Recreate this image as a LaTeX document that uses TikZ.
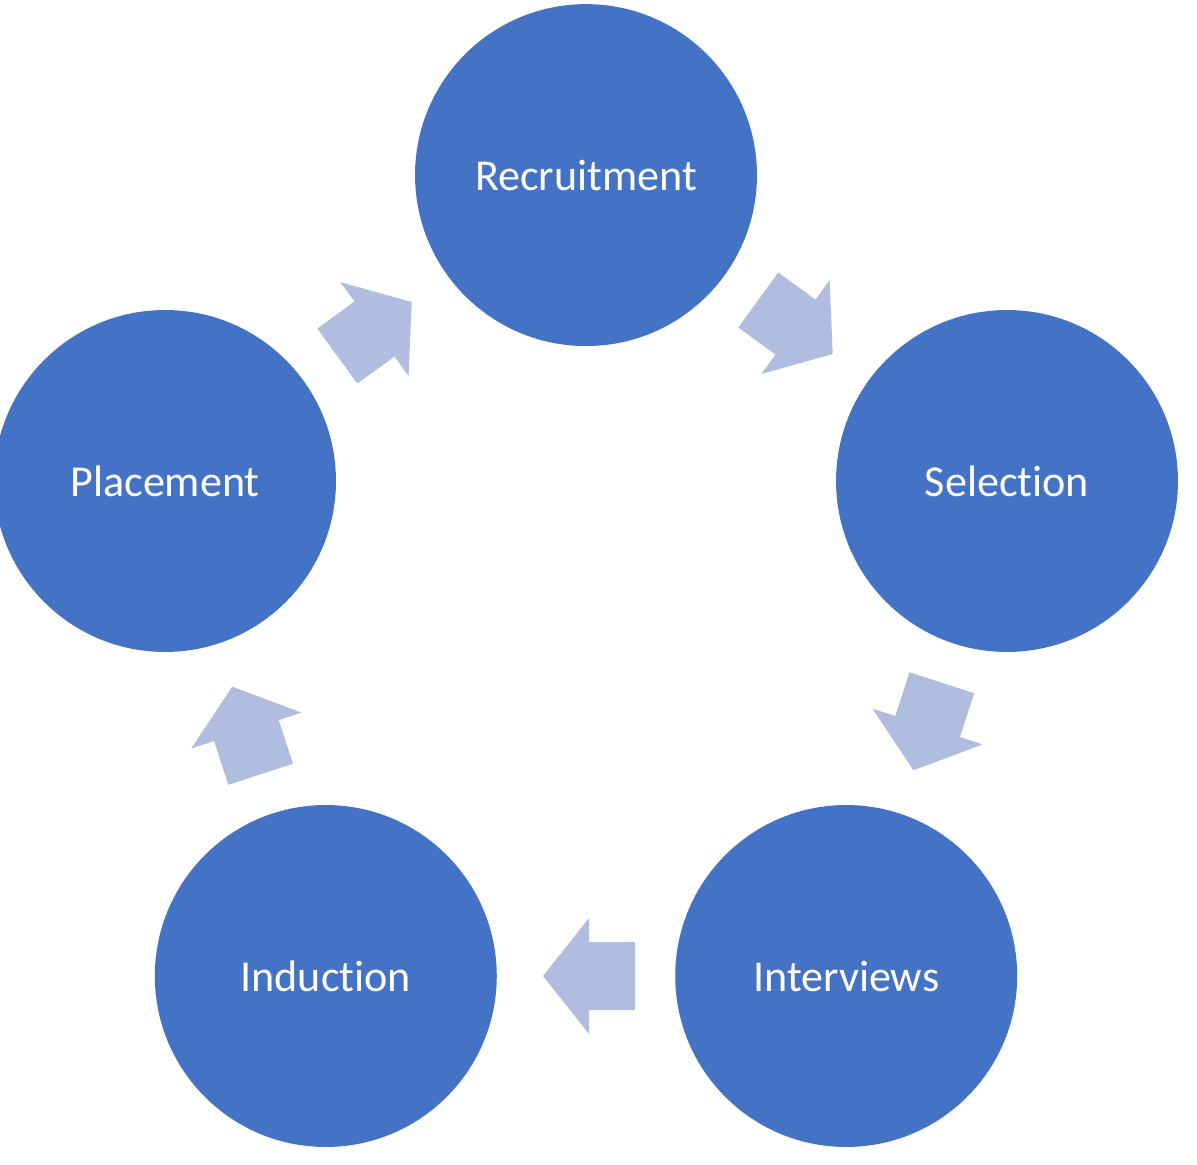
\documentclass[tikz,border=0pt]{standalone}
\usepackage{fontspec}
\setmainfont{Carlito}[Ligatures={NoCommon}]
\usetikzlibrary{calc}
\definecolor{circblue}{HTML}{4472C4}
\definecolor{arrblue}{RGB}{176,189,223}
\tikzset{
  stage/.style={circle, fill=circblue, draw=none, minimum size=6.84cm, inner sep=0pt,
    text=white, font=\fontsize{25.1}{30}\selectfont},
  blockarrow/.style={fill=arrblue, draw=none}
}
\newcommand{\cyclearrow}[4]{%
  \path[blockarrow, shift={($(#1)!0.5!(#2)+(#4)$)}, rotate=#3]
    (46,0) -- (0,58) -- (0,34) -- (-46,34) -- (-46,-34) -- (0,-34) -- (0,-58) -- cycle;}
\begin{document}
\begin{tikzpicture}[x=0.02cm, y=-0.02cm]
\useasboundingbox (0,0) rectangle (1197,1165);
\clip (0,0) rectangle (1197,1165);
\fill[white] (0,0) rectangle (1197,1165);
\node[stage] (rec) at (586,175.1) {Recruitment};
\node[stage] (sel) at (1007,481) {Selection};
\node[stage] (int) at (846.2,976) {Interviews};
\node[stage] (ind) at (325.8,976) {Induction};
\node[stage] (pla) at (165,481) {Placement};
\cyclearrow{rec}{sel}{-36}{-1,-1}
\cyclearrow{sel}{int}{-108}{1,-2}
\cyclearrow{int}{ind}{180}{3,0}
\cyclearrow{ind}{pla}{108}{1,2}
\cyclearrow{pla}{rec}{36}{-1,1}
\end{tikzpicture}
\end{document}
